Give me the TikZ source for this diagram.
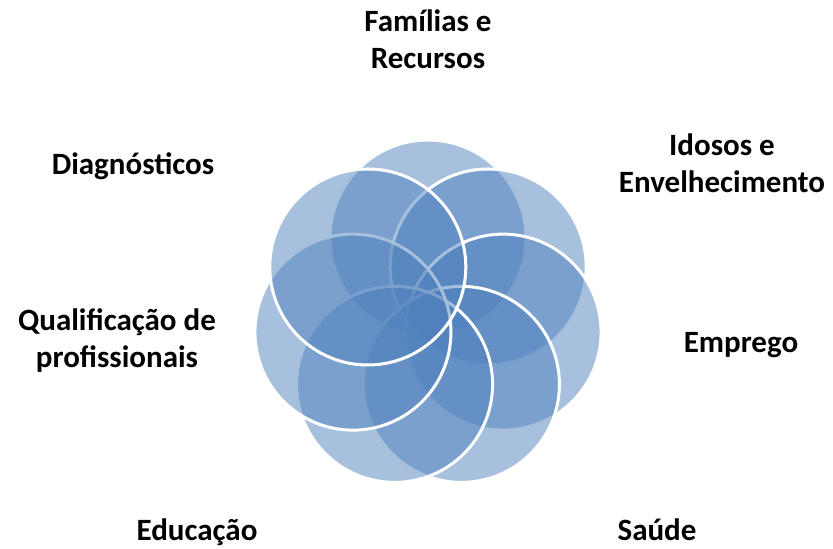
\documentclass[tikz,border=0pt]{standalone}
\usepackage{fontspec}
\setmainfont{Carlito}
\usepackage{tikz}
\usetikzlibrary{calc}
\definecolor{rdBlue}{RGB}{79,129,189}

\begin{document}
\begin{tikzpicture}[x=1pt, y=1pt,
  petal/.style={circle, minimum size=196pt, inner sep=0pt, fill=rdBlue, fill opacity=0.5, draw=white, line width=3pt},
  lbl/.style={font=\bfseries\fontsize{31}{37}\selectfont, align=center, inner sep=0pt, anchor=base}]
  \useasboundingbox (0,0) rectangle (833,549);

  % Overlapping circles, clockwise from the top
  \coordinate (hub) at (428,234);
  \foreach \i in {0,...,6}
    \node[petal] (c\i) at ($(hub)+({90-\i*360/7}:77)$) {};

  % Labels (base = last line)
  \node[lbl] (fam) at (428,480) {Famílias e\\Recursos};
  \node[lbl] (ido) at (722,356) {Idosos e\\Envelhecimento};
  \node[lbl] (emp) at (741,196) {Emprego};
  \node[lbl] (sau) at (657,8) {Saúde};
  \node[lbl] (edu) at (197,9) {Educação};
  \node[lbl] (qua) at (117,181) {Qualificação de\\profissionais};
  \node[lbl] (dia) at (133,374) {Diagnósticos};
\end{tikzpicture}
\end{document}
